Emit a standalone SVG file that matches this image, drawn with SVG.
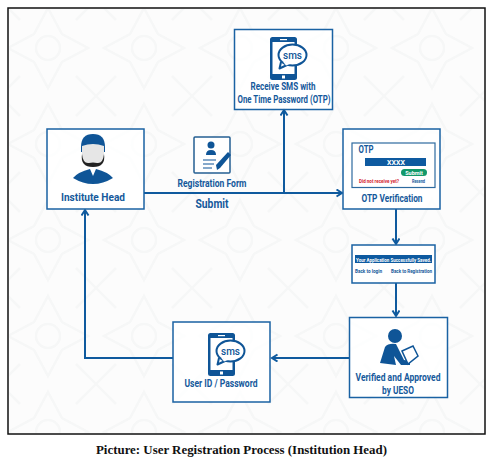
<svg xmlns="http://www.w3.org/2000/svg" width="492" height="467" viewBox="0 0 492 467">
<style>
.box{fill:#fff;fill-opacity:.8;stroke:#1a62a3;stroke-width:1.500}
.t{font-family:"Roboto","Liberation Sans",sans-serif;font-weight:700;fill:#15599b;text-anchor:middle}
.c{fill:none;stroke:#0f5a9e;stroke-width:2}
.i{fill:#0f5597}
</style>
<defs>
<marker id="a" markerWidth="10" markerHeight="10" refX="6.500" refY="4" orient="auto" markerUnits="userSpaceOnUse"><path d="M1 0.500L6.500 4L1 7.500" fill="none" stroke="#0f5a9e" stroke-width="2"/></marker>
<pattern id="bg" width="96" height="96" patternUnits="userSpaceOnUse"><g fill="none" stroke="#f6f7f7" stroke-width="2.500"><path d="M48 8L62 34L88 48L62 62L48 88L34 62L8 48L34 34Z"/><circle cx="48" cy="48" r="12"/><path d="M0 0L20 20M96 0L76 20M0 96L20 76M96 96L76 76"/></g></pattern>
<g id="phone"><rect x="0" y="0" width="27" height="43" rx="2.500" class="i"/><rect x="2.500" y="5" width="22" height="32" fill="#fff"/><rect x="10" y="2" width="7" height="1.200" fill="#fff"/><rect x="12" y="38.500" width="3" height="3" fill="#fff"/><path d="M11 25L9.500 31.500L17 28" fill="#fff" stroke="#0f5597" stroke-width="2" stroke-linejoin="round"/><ellipse cx="22.500" cy="18" rx="14" ry="10.500" fill="#fff" stroke="#0f5597" stroke-width="2"/><path d="M12.500 24L16 28.500L20 27Z" fill="#fff"/></g>
</defs>
<rect width="492" height="467" fill="#fff"/>
<rect x="8" y="8" width="477" height="426" fill="#fcfcfc" stroke="#111" stroke-width="1.500"/>
<rect x="9" y="9" width="475" height="424" fill="url(#bg)"/>
<g id="connectors">
<path class="c" d="M144 193H342" marker-end="url(#a)"/>
<path class="c" d="M284 193V110" marker-end="url(#a)"/>
<path class="c" d="M396 209V244" marker-end="url(#a)"/>
<path class="c" d="M396 283V316" marker-end="url(#a)"/>
<path class="c" d="M349 358H272" marker-end="url(#a)"/>
<path class="c" d="M173 358H85V210" marker-end="url(#a)"/>
</g>
<g id="node-sms"><rect class="box" x="234.500" y="29.500" width="98" height="80"/><use href="#phone" x="270" y="37"/>
<text x="292.500" y="59" font-family="Roboto,sans-serif" font-size="10" font-weight="500" fill="#0f5597" text-anchor="middle">sms</text>
<text class="t" x="283" y="90" font-size="10" textLength="65" lengthAdjust="spacingAndGlyphs">Receive SMS with</text>
<text class="t" x="284" y="103" font-size="10" textLength="93" lengthAdjust="spacingAndGlyphs">One Time Password (OTP)</text></g>
<g id="node-head"><rect class="box" x="47" y="129" width="97" height="80"/>
<path d="M81 147Q81 134 93 134Q105 134 105 147V152H81Z" class="i"/><path d="M82 146Q93 142 104 146V158Q102 167 93 167Q84 167 82 158Z" fill="#e6e6e6"/><path d="M82 154Q83 164 89 163Q93 162 97 163Q103 164 104 154Q106 167 93 167Q80 167 82 154Z" fill="#222"/><path d="M73 178Q78 172 90 169L93 176L96 169Q108 172 113 178Q103 184 93 184Q83 184 73 178Z" class="i"/>
<text class="t" x="93" y="201" font-size="11.500" textLength="64" lengthAdjust="spacingAndGlyphs">Institute Head</text></g>
<g id="node-form"><rect x="194" y="137" width="36" height="36" rx="1" fill="#fff" stroke="#255f92" stroke-width="1.500"/><circle cx="211" cy="145" r="3.500" class="i"/><path d="M206 155Q206 150 211 150Q216 150 216 155Z" class="i"/><path d="M203 160H216M203 164H214M203 168H212" stroke="#0f5597" stroke-width="1.200"/><path d="M217 170L216 165L228 152L231 155L220 168Z" class="i"/>
<text class="t" x="212" y="187" font-size="10.500" textLength="69" lengthAdjust="spacingAndGlyphs">Registration Form</text></g>
<text id="label-submit" class="t" x="212" y="208" font-size="12" textLength="33" lengthAdjust="spacingAndGlyphs">Submit</text>
<g id="node-otp"><rect class="box" x="343" y="129" width="97" height="80"/><rect x="352" y="143" width="83" height="44.500" fill="#fff" stroke="#2d6a9f" stroke-width="1.200"/>
<text class="t" x="366" y="153" font-size="10.500" textLength="15" lengthAdjust="spacingAndGlyphs">OTP</text><rect x="365" y="158" width="61" height="8" fill="#0e5aa0"/>
<text x="396" y="165" font-family="Roboto,sans-serif" font-weight="700" font-size="7" fill="#fff" text-anchor="middle">XXXX</text>
<rect x="401" y="169" width="26" height="7" rx="3.500" fill="#12996a"/><text x="414" y="175" font-family="Roboto,sans-serif" font-weight="700" font-size="5.500" fill="#fff" text-anchor="middle">Submit</text>
<text x="359" y="183" font-family="Roboto,sans-serif" font-weight="700" font-size="5" fill="#d3232f" textLength="40" lengthAdjust="spacingAndGlyphs">Did not receive yet?</text>
<text x="412" y="183" font-family="Roboto,sans-serif" font-weight="700" font-size="5" fill="#15599b" textLength="13" lengthAdjust="spacingAndGlyphs">Resend</text>
<text class="t" x="392" y="202" font-size="11" textLength="61" lengthAdjust="spacingAndGlyphs">OTP Verification</text></g>
<g id="node-saved"><rect class="box" x="352" y="245" width="83" height="38" stroke-width="1.200" style="fill-opacity:1"/><rect x="355" y="255" width="77" height="8" fill="#0e5aa0"/>
<text x="393.500" y="261.500" font-family="Roboto,sans-serif" font-weight="700" font-size="5" fill="#fff" text-anchor="middle" textLength="75" lengthAdjust="spacingAndGlyphs">Your Application Successfully Saved.</text>
<text x="355" y="273" font-family="Roboto,sans-serif" font-weight="700" font-size="5" fill="#15599b" textLength="27" lengthAdjust="spacingAndGlyphs">Back to login</text>
<text x="391" y="273" font-family="Roboto,sans-serif" font-weight="700" font-size="5" fill="#15599b" textLength="41" lengthAdjust="spacingAndGlyphs">Back to Registration</text></g>
<g id="node-verified"><rect class="box" x="349.500" y="317.500" width="98" height="80"/><circle cx="395" cy="336" r="7" class="i"/><path d="M380 363L385 347Q388 343 396 344L404 360L410 361V365H401L394 356L396 365Z" class="i"/><path d="M402 351L413 346L418 356L408 364Z" fill="#fff" stroke="#0f5597" stroke-width="1.500"/>
<text class="t" x="398" y="381" font-size="10.500" textLength="85" lengthAdjust="spacingAndGlyphs">Verified and Approved</text><text class="t" x="398" y="393.500" font-size="10.500" textLength="32" lengthAdjust="spacingAndGlyphs">by UESO</text></g>
<g id="node-user"><rect class="box" x="173" y="322" width="97" height="80"/><use href="#phone" x="208" y="333"/><text x="230.500" y="355" font-family="Roboto,sans-serif" font-size="10" font-weight="500" fill="#0f5597" text-anchor="middle">sms</text>
<text class="t" x="221" y="387" font-size="11" textLength="73" lengthAdjust="spacingAndGlyphs">User ID / Password</text></g>
<text id="caption" x="241.500" y="454" font-family="Liberation Serif,serif" font-weight="700" font-size="13.500" fill="#111" text-anchor="middle" textLength="291" lengthAdjust="spacingAndGlyphs">Picture: User Registration Process (Institution Head)</text>
</svg>
